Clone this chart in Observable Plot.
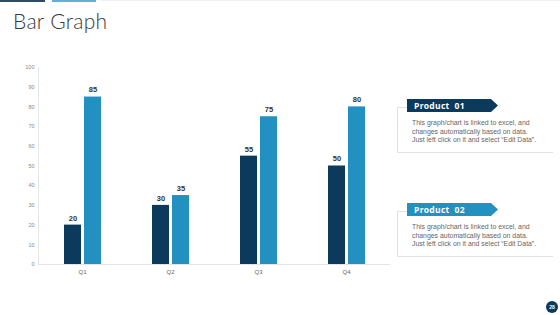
<!DOCTYPE html>
<html>
<head>
<meta charset="utf-8">
<script src="https://cdn.jsdelivr.net/npm/d3@7"></script>
<script src="https://cdn.jsdelivr.net/npm/@observablehq/plot@0.6"></script>
<style>
  html, body { margin: 0; padding: 0; background: #fff; }
  #wrap { position: relative; width: 560px; height: 315px; overflow: hidden; font-family: Lato, "Open Sans", sans-serif; }
  #chart { position: absolute; left: 0; top: 0; }
  .title { position: absolute; left: 13px; top: 8px; font-size: 21px; color: #383838; font-family: Lato, sans-serif; font-weight: 300; letter-spacing: 0.3px; }
  .topline { position: absolute; top: 0px; height: 2px; }
  .panel { position: absolute; left: 397px; width: 155px; border-left: 1px solid #e2e2e2; border-bottom: 1px solid #e2e2e2; }
  .panel:before { content: ""; position: absolute; left: 0; top: 0; width: 9px; border-top: 1px solid #e2e2e2; }
  .tag { position: absolute; left: 9px; top: -8px; height: 13px; width: 91px; }
  .tag span { position: absolute; left: 7px; top: 0px; line-height: 13px; color: #fff; font-weight: 700; font-size: 8.5px; font-family: "Open Sans", sans-serif; white-space: pre; letter-spacing: 0.3px; }
  .desc { position: absolute; left: 14px; top: 12px; font-size: 6.9px; line-height: 8.5px; color: #666; font-family: "Liberation Sans", Arial, sans-serif; white-space: nowrap; }
  .pg { position: absolute; left: 546px; top: 301px; width: 12px; height: 12px; border-radius: 50%; background: #0c3a5c; color: #fff; font-size: 5px; font-weight: 700; text-align: center; line-height: 12px; font-family: "Liberation Sans", sans-serif; }
</style>
</head>
<body>
<div id="wrap">
  <div id="chart"></div>
  <div class="topline" style="left:0;width:45px;background:#2f4a62;"></div>
  <div class="topline" style="left:52px;width:44px;background:#5fb3d6;"></div>
  <div class="topline" style="left:100px;width:460px;height:1px;background:#f0f0f0;"></div>
  <div class="title">Bar Graph</div>
  <div id="panels"></div>
  <div class="pg">28</div>
</div>
<script>
const quarters = ["Q1", "Q2", "Q3", "Q4"];
const products = ["Product 01", "Product 02"];
const product01 = [20, 30, 55, 50];
const product02 = [85, 35, 75, 80];
const yTicks = [0, 10, 20, 30, 40, 50, 60, 70, 80, 90, 100];
const colors = ["#0c3a5c", "#2290c0"];
const panelTops = [107, 211];
const descLines = ["This graph/chart is linked to excel, and", "changes automatically based on data.", "Just left click on it and select \u201cEdit Data\u201d."];

const data = [];
quarters.forEach((q, i) => {
  data.push({quarter: q, product: products[0], value: product01[i]});
  data.push({quarter: q, product: products[1], value: product02[i]});
});

const chart = Plot.plot({
  width: 560,
  height: 315,
  marginLeft: 38,
  marginRight: 170,
  marginTop: 67,
  marginBottom: 51,
  style: {fontFamily: "'Liberation Sans', Arial, sans-serif", background: "transparent"},
  fx: {domain: quarters, padding: 0, label: null, axis: null},
  x: {domain: products, paddingInner: 0.15, paddingOuter: 1.275, axis: null},
  y: {domain: [0, 100], axis: null},
  color: {domain: products, range: colors},
  marks: [
    Plot.rect([quarters[0]], {fx: d => d, y1: 0, y2: 100, insetRight: 87, fill: "#e6e6e6"}),
    Plot.axisY({ticks: yTicks, tickSize: 0, tickPadding: 4, fontSize: 5.5, fill: "#888", label: null}),
    Plot.barY(data, {fx: "quarter", x: "product", y: "value", fill: "product"}),
    Plot.text(data, {fx: "quarter", x: "product", y: "value", text: d => String(d.value), dy: -7, fontSize: 7.5, fontWeight: 700, fill: "#333"}),
    Plot.ruleY([0], {stroke: "#e4e4e4"}),
    Plot.axisFx({anchor: "bottom", tickSize: 0, tickPadding: 5, fontSize: 6, fill: "#666", label: null})
  ]
});
document.getElementById("chart").appendChild(chart);

const panels = document.getElementById("panels");
products.forEach((p, i) => {
  const el = document.createElement("div");
  el.className = "panel";
  el.style.top = panelTops[i] + "px";
  el.style.height = "45px";
  const label = "Product  " + p.split(" ")[1];
  el.innerHTML =
    `<svg class="tag" viewBox="0 0 91 13" width="91" height="13"><polygon points="0,0 84,0 91,6.5 84,13 0,13" fill="${colors[i]}"/></svg>` +
    `<div class="tag" style="background:none"><span>${label}</span></div>` +
    `<div class="desc">${descLines.join("<br>")}</div>`;
  panels.appendChild(el);
});
</script>
</body>
</html>
